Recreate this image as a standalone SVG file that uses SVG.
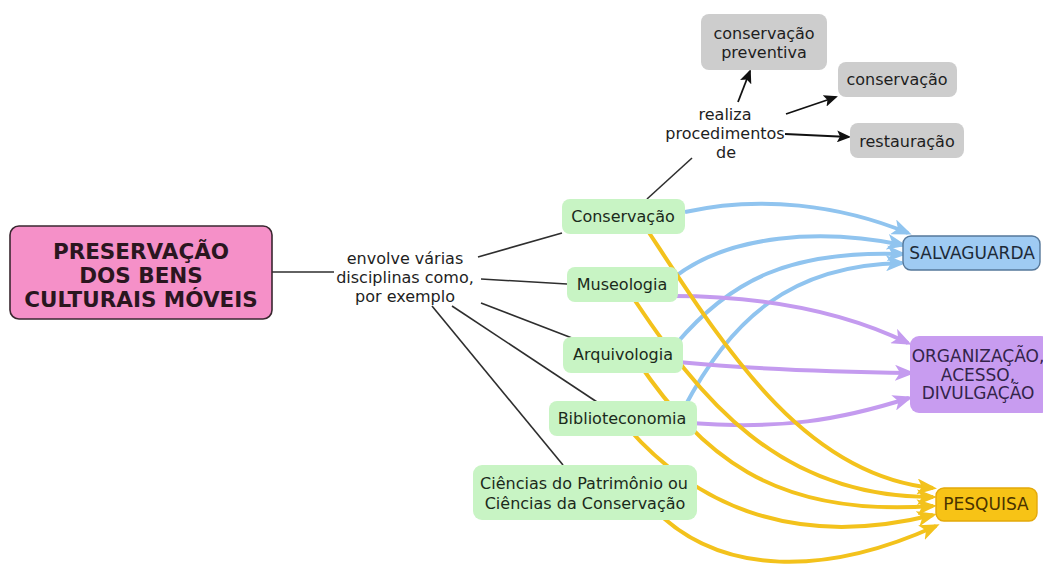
<svg xmlns="http://www.w3.org/2000/svg" width="1043" height="565" viewBox="0 0 1043 565">
  <style>
    text { font-family: "DejaVu Sans", Verdana, sans-serif; font-size: 16px; fill: #1e1e1e; text-anchor: middle; dominant-baseline: central; }
    .title { font-weight: bold; font-size: 21.5px; fill: #2a161f; }
    .caps { font-size: 17px; }
    .link { fill: none; stroke: #2e2e2e; stroke-width: 1.6; }
    .blue { fill: none; stroke: #90c4ef; stroke-width: 4; marker-end: url(#ah-blue); }
    .purple { fill: none; stroke: #c49bef; stroke-width: 4; marker-end: url(#ah-purple); }
    .yellow { fill: none; stroke: #f3c21c; stroke-width: 4; marker-end: url(#ah-yellow); }
    .arrow { fill: none; stroke: #111; stroke-width: 1.8; marker-end: url(#ah-black); }
    .green rect { fill: #c8f4c4; }
    .green text { fill: #1b2a1b; }
    .gray rect { fill: #cdcdcd; }
  </style>
  <defs>
    <marker id="ah-blue" viewBox="0 0 20 16" refX="16" refY="8" markerWidth="20" markerHeight="16" markerUnits="userSpaceOnUse" orient="auto">
      <path d="M0,0 L20,8 L0,16 L5,8 Z" fill="#90c4ef"/>
    </marker>
    <marker id="ah-purple" viewBox="0 0 20 16" refX="16" refY="8" markerWidth="20" markerHeight="16" markerUnits="userSpaceOnUse" orient="auto">
      <path d="M0,0 L20,8 L0,16 L5,8 Z" fill="#c49bef"/>
    </marker>
    <marker id="ah-yellow" viewBox="0 0 20 16" refX="16" refY="8" markerWidth="20" markerHeight="16" markerUnits="userSpaceOnUse" orient="auto">
      <path d="M0,0 L20,8 L0,16 L5,8 Z" fill="#f3c21c"/>
    </marker>
    <marker id="ah-black" viewBox="0 0 14 12" refX="12" refY="6" markerWidth="14" markerHeight="12" markerUnits="userSpaceOnUse" orient="auto">
      <path d="M0,0 L14,6 L0,12 L3,6 Z" fill="#111"/>
    </marker>
  </defs>

  <rect width="1043" height="565" fill="#ffffff"/>

  <!-- connectors -->
  <g id="connectors">
    <!-- plain links from the root through the linking phrase -->
    <path class="link" d="M272,272 L334,272"/>
    <path class="link" d="M478,257 L562,233"/>
    <path class="link" d="M481,279 L567,284"/>
    <path class="link" d="M481,303 L572,338"/>
    <path class="link" d="M452,306 L597,402"/>
    <path class="link" d="M432,306 L563,465"/>
    <path class="link" d="M647,199 L692,158"/>

    <!-- procedures -->
    <path class="arrow" d="M738,102 L750,71"/>
    <path class="arrow" d="M786,114 L836,97"/>
    <path class="arrow" d="M785,134 L849,137"/>

    <!-- to SALVAGUARDA -->
    <path class="blue" d="M685,212 C760,195 840,205 908,233"/>
    <path class="blue" d="M676,276 C730,235 820,228 903,245"/>
    <path class="blue" d="M676,344 C730,280 790,250 903,254"/>
    <path class="blue" d="M684,408 C730,320 790,265 902,263"/>

    <!-- to ORGANIZAÇÃO, ACESSO, DIVULGAÇÃO -->
    <path class="purple" d="M672,296 C760,296 840,310 908,343"/>
    <path class="purple" d="M678,362 C760,370 840,372 911,373"/>
    <path class="purple" d="M690,423 C780,430 840,420 909,398"/>

    <!-- to PESQUISA -->
    <path class="yellow" d="M642,222 C720,340 800,475 933,488"/>
    <path class="yellow" d="M628,290 C700,400 780,498 933,497"/>
    <path class="yellow" d="M638,362 C700,452 770,518 933,506"/>
    <path class="yellow" d="M628,428 C700,510 800,548 933,515"/>
    <path class="yellow" d="M650,505 C720,580 830,574 936,526"/>
  </g>

  <!-- root concept -->
  <g id="preservacao">
    <rect x="10" y="226" width="262" height="93" rx="9" fill="#f590c8" stroke="#3a2730" stroke-width="1.6"/>
    <text class="title" x="141" y="251">PRESERVAÇÃO</text>
    <text class="title" x="141" y="275">DOS BENS</text>
    <text class="title" x="141" y="299">CULTURAIS MÓVEIS</text>
  </g>

  <!-- linking phrases -->
  <g id="envolve">
    <text x="405" y="258">envolve várias</text>
    <text x="405" y="277">disciplinas como,</text>
    <text x="405" y="296">por exemplo</text>
  </g>
  <g id="realiza">
    <text x="725" y="114">realiza</text>
    <text x="725" y="133">procedimentos</text>
    <text x="726" y="152">de</text>
  </g>

  <!-- procedures -->
  <g id="conservacao-preventiva" class="gray">
    <rect x="701" y="14" width="126" height="56" rx="8"/>
    <text x="764" y="33">conservação</text>
    <text x="764" y="52">preventiva</text>
  </g>
  <g id="conservacao-proc" class="gray">
    <rect x="838" y="62" width="119" height="35" rx="8"/>
    <text x="897" y="79">conservação</text>
  </g>
  <g id="restauracao" class="gray">
    <rect x="850" y="123" width="114" height="35" rx="8"/>
    <text x="907" y="141">restauração</text>
  </g>

  <!-- disciplines -->
  <g id="conservacao" class="green">
    <rect x="562" y="199" width="123" height="35" rx="8"/>
    <text x="623" y="216">Conservação</text>
  </g>
  <g id="museologia" class="green">
    <rect x="567" y="267" width="111" height="35" rx="8"/>
    <text x="622" y="284">Museologia</text>
  </g>
  <g id="arquivologia" class="green">
    <rect x="563" y="337" width="120" height="36" rx="8"/>
    <text x="623" y="354">Arquivologia</text>
  </g>
  <g id="biblioteconomia" class="green">
    <rect x="549" y="401" width="148" height="35" rx="8"/>
    <text x="622" y="418">Biblioteconomia</text>
  </g>
  <g id="ciencias" class="green">
    <rect x="473" y="465" width="224" height="55" rx="9"/>
    <text x="584" y="483">Ciências do Patrimônio ou</text>
    <text x="585" y="503">Ciências da Conservação</text>
  </g>

  <!-- outcomes -->
  <g id="salvaguarda">
    <rect x="903" y="236" width="137" height="34" rx="8" fill="#9fcbf3" stroke="#56789a" stroke-width="1.4"/>
    <text class="caps" x="972" y="253" style="fill:#1d2a38">SALVAGUARDA</text>
  </g>
  <g id="organizacao">
    <rect x="910" y="336" width="140" height="77" rx="9" fill="#c89cf0"/>
    <text class="caps" x="978" y="356" style="fill:#33244a">ORGANIZAÇÃO,</text>
    <text class="caps" x="978" y="375" style="fill:#33244a">ACESSO,</text>
    <text class="caps" x="978" y="393" style="fill:#33244a">DIVULGAÇÃO</text>
  </g>
  <g id="pesquisa">
    <rect x="936" y="488" width="101" height="33" rx="8" fill="#f7c316" stroke="#e4a90a" stroke-width="1.4"/>
    <text class="caps" x="986" y="504" style="fill:#4a3300">PESQUISA</text>
  </g>
</svg>
